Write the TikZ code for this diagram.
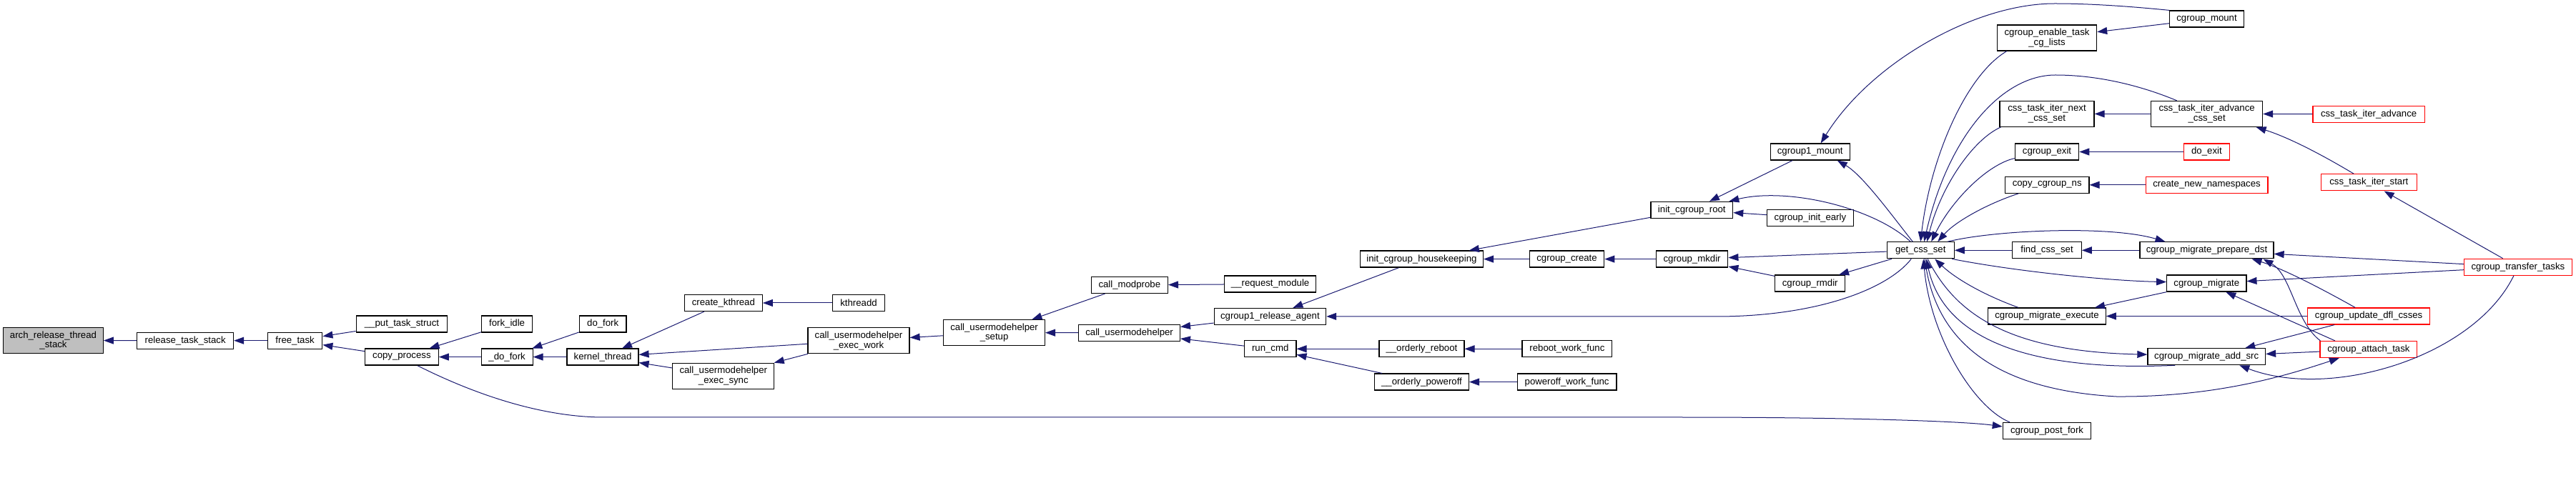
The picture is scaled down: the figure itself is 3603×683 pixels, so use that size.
\documentclass[tikz,border=0pt]{standalone}
\usepackage{fontspec}
\setmainfont{Liberation Sans}
\usepackage{tikz}
\usepackage{xcolor}
\usetikzlibrary{arrows.meta,calc}
\definecolor{edgeblue}{HTML}{191970}
\definecolor{rootgray}{HTML}{BFBFBF}
\definecolor{linkred}{HTML}{FF0000}
\tikzset{
  fn/.style={draw=black,fill=white,line width=0.6pt,
             inner xsep=2pt,inner ysep=1pt,minimum height=11.5pt,
             align=center,font=\fontsize{6.6pt}{6.9pt}\selectfont},
  twoline/.style={minimum height=18pt},
  rootfn/.style={fn,fill=rootgray},
  extfn/.style={fn,draw=linkred},
  call/.style={->,draw=edgeblue,line width=0.5pt}
}

\begin{document}
\begin{tikzpicture}[x=0.5pt,y=-0.5pt,>={Triangle[length=7pt,width=5pt]}]
  \useasboundingbox (0,0) rectangle (3603,683);

  % kernel side, left half
  \node[rootfn,twoline,minimum width=69.8pt] (arch) at (74.5,476.5) {arch\_release\_thread\\\_stack};
  \node[fn,minimum width=67.4pt] (rts) at (259.2,476.7) {release\_task\_stack};
  \node[fn,minimum width=38.2pt] (free) at (412.6,476.7) {free\_task};
  \node[fn,minimum width=63.8pt] (put) at (562,453.5) {\_\_put\_task\_struct};
  \node[fn,minimum width=51.4pt] (copy) at (561.9,499.6) {copy\_process};
  \node[fn,minimum width=35.6pt] (forkidle) at (709.1,453.5) {fork\_idle};
  \node[fn,minimum width=36pt] (ufork) at (709.1,499.6) {\_do\_fork};
  \node[fn,minimum width=32.8pt] (dofork) at (843.2,453.5) {do\_fork};
  \node[fn,minimum width=50pt] (kthread) at (843,499.6) {kernel\_thread};
  \node[fn,minimum width=54.4pt] (createk) at (1011.9,424) {create\_kthread};
  \node[fn,twoline,minimum width=71pt] (execsync) at (1011.8,526.3) {call\_usermodehelper\\\_exec\_sync};
  \node[fn,minimum width=36.3pt] (kthreadd) at (1201,424) {kthreadd};
  \node[fn,twoline,minimum width=71pt] (execwork) at (1201,476.7) {call\_usermodehelper\\\_exec\_work};
  \node[fn,twoline,minimum width=70.8pt] (setup) at (1390.6,465.6) {call\_usermodehelper\\\_setup};
  \node[fn,minimum width=53.6pt] (modprobe) at (1579.8,399) {call\_modprobe};
  \node[fn,minimum width=70.8pt] (cuh) at (1579.6,465.8) {call\_usermodehelper};
  \node[fn,minimum width=64.1pt] (reqmod) at (1776.6,397.5) {\_\_request\_module};
  \node[fn,minimum width=78.2pt] (release) at (1776.4,442.9) {cgroup1\_release\_agent};
  \node[fn,minimum width=36.2pt] (runcmd) at (1776.7,488.3) {run\_cmd};
  \node[fn,minimum width=86pt] (housekeep) at (1988.4,362.6) {init\_cgroup\_housekeeping};
  \node[fn,minimum width=59.5pt] (oreboot) at (1988.4,488.3) {\_\_orderly\_reboot};
  \node[fn,minimum width=65.9pt] (opoweroff) at (1988.5,534.6) {\_\_orderly\_poweroff};
  \node[fn,minimum width=52.2pt] (ccreate) at (2191.5,362.6) {cgroup\_create};
  \node[fn,minimum width=62.9pt] (rebootwf) at (2191.9,488.3) {reboot\_work\_func};
  \node[fn,minimum width=69.4pt] (poweroffwf) at (2191.6,534.6) {poweroff\_work\_func};
  \node[fn,minimum width=50.2pt] (mkdir) at (2366.6,362.6) {cgroup\_mkdir};
  \node[fn,minimum width=57.4pt] (root) at (2366.3,293.8) {init\_cgroup\_root};

  % cgroup core
  \node[fn,minimum width=55.4pt] (c1mount) at (2531.7,212.5) {cgroup1\_mount};
  \node[fn,minimum width=60.3pt] (initearly) at (2531.9,304.7) {cgroup\_init\_early};
  \node[fn,minimum width=49pt] (rmdir) at (2531.7,396.6) {cgroup\_rmdir};
  \node[fn,minimum width=47pt] (getcss) at (2686.2,350.3) {get\_css\_set};
  \node[fn,twoline,minimum width=69.6pt] (enable) at (2863,53) {cgroup\_enable\_task\\\_cg\_lists};
  \node[fn,twoline,minimum width=66pt] (nextcss) at (2863,159.4) {css\_task\_iter\_next\\\_css\_set};
  \node[fn,minimum width=44.7pt] (cexit) at (2863,212.5) {cgroup\_exit};
  \node[fn,minimum width=58.7pt] (copyns) at (2863.2,258.8) {copy\_cgroup\_ns};
  \node[fn,minimum width=48.2pt] (findcss) at (2863,350.3) {find\_css\_set};
  \node[fn,minimum width=82.2pt] (mexec) at (2863,442.5) {cgroup\_migrate\_execute};
  \node[fn,minimum width=61.7pt] (postfork) at (2863,603) {cgroup\_post\_fork};
  \node[fn,minimum width=51.9pt] (cmount) at (3086.5,26.5) {cgroup\_mount};
  \node[fn,twoline,minimum width=78pt] (advcss) at (3086.6,159.4) {css\_task\_iter\_advance\\\_css\_set};
  \node[extfn,minimum width=32.2pt] (doexit) at (3086.4,212.5) {do\_exit};
  \node[extfn,minimum width=85.4pt] (newns) at (3086.5,258.8) {create\_new\_namespaces};
  \node[fn,minimum width=93.5pt] (prepdst) at (3086.5,350.3) {cgroup\_migrate\_prepare\_dst};
  \node[fn,minimum width=55.6pt] (migrate) at (3086.3,396.6) {cgroup\_migrate};
  \node[fn,minimum width=82.3pt] (addsrc) at (3086.2,499.2) {cgroup\_migrate\_add\_src};
  \node[extfn,minimum width=78.1pt] (advance) at (3313.1,159.7) {css\_task\_iter\_advance};
  \node[extfn,minimum width=66.8pt] (iterstart) at (3313.3,255.4) {css\_task\_iter\_start};
  \node[extfn,minimum width=85.4pt] (updatedfl) at (3313.1,442.5) {cgroup\_update\_dfl\_csses};
  \node[extfn,minimum width=67.9pt] (attach) at (3312.9,489) {cgroup\_attach\_task};
  \node[extfn,minimum width=75.4pt] (transfer) at (3521.9,373.7) {cgroup\_transfer\_tasks};

  % left chain
  \draw[call] (rts) -- (arch);
  \draw[call] (free) -- (rts);
  \draw[call] (put) -- (free);
  \draw[call] (copy) -- (free);
  \draw[call] (forkidle) -- (copy);
  \draw[call] (ufork) -- (copy);
  \draw[call] (dofork) -- (ufork);
  \draw[call] (kthread) -- (ufork);
  \draw[call] (createk) -- (kthread);
  \draw[call] (execwork) -- (kthread);
  \draw[call] (execsync) -- (kthread);
  \draw[call] (kthreadd) -- (createk);
  \draw[call] (execwork) -- (execsync);
  \draw[call] (setup) -- (execwork);
  \draw[call] (modprobe) -- (setup);
  \draw[call] (cuh) -- (setup);
  \draw[call] (reqmod) -- (modprobe);
  \draw[call] (release) -- (cuh);
  \draw[call] (runcmd) -- (cuh);
  \draw[call] (oreboot) -- (runcmd);
  \draw[call] (opoweroff) -- (runcmd);
  \draw[call] (rebootwf) -- (oreboot);
  \draw[call] (poweroffwf) -- (opoweroff);
  \draw[call] (housekeep) -- (release);
  \draw[call] (ccreate) -- (housekeep);
  \draw[call] (root) -- (housekeep);
  \draw[call] (mkdir) -- (ccreate);
  \draw[call] (c1mount) -- (root);
  \draw[call] (initearly) -- (root);
  \draw[call] (rmdir) -- (mkdir);

  % long run under everything
  \draw[call] ($(copy.south)+(22,0)$) .. controls (680,560) and (770,584) .. (845,584)
    -- (2350,584) .. controls (2600,584) and (2750,590) .. ($(postfork.west)+(0,-6)$);

  % out of get_css_set, to the left
  \draw[call] (getcss) -- (mkdir);
  \draw[call] (getcss) -- (rmdir);
  \draw[call] ($(getcss.south)+(-13,0)$) .. controls (2640,405) and (2540,443) .. (2400,443) -- (release.east);
  \draw[call] ($(getcss.north)+(-14,0)$) .. controls (2620,290) and (2500,262) .. ($(root.north east)+(-6,0)$);
  \draw[call] ($(getcss.north)+(-11,0)$) .. controls (2645,300) and (2605,245) .. ($(c1mount.south)+(38,0)$);

  % top arc
  \draw[call] (cmount.north west) .. controls (2990,10) and (2930,5) .. (2874,5)
    .. controls (2760,5) and (2615,90) .. ($(c1mount.north)+(15,0)$);
  \draw[call] (cmount) -- (enable);

  % into get_css_set from above
  \draw[call] ($(enable.south west)+(14,0)$) .. controls (2750,105) and (2700,220) .. (getcss.north);
  \draw[call] ($(advcss.north)+(-42,0)$) .. controls (2990,118) and (2930,105) .. (2875,105)
    .. controls (2800,105) and (2725,190) .. ($(getcss.north)+(5,0)$);
  \draw[call] ($(nextcss.south west)+(2,0)$) .. controls (2760,195) and (2715,260) .. ($(getcss.north)+(9,0)$);
  \draw[call] ($(cexit.south west)+(0,-3)$) .. controls (2780,230) and (2730,280) .. ($(getcss.north)+(15,0)$);
  \draw[call] ($(copyns.south)+(-40,0)$) .. controls (2780,285) and (2735,310) .. ($(getcss.north)+(24,0)$);
  \draw[call] (advcss) -- (nextcss);
  \draw[call] (doexit) -- (cexit);
  \draw[call] (newns) -- (copyns);
  \draw[call] (advance) -- (advcss);
  \draw[call] ($(iterstart.north)+(-21,0)$) .. controls (3245,215) and (3200,192) .. ($(advcss.south)+(69,0)$);
  \draw[call] (transfer) -- (iterstart);

  % migration
  \draw[call] (findcss) -- (getcss);
  \draw[call] (prepdst) -- (findcss);
  \draw[call] ($(getcss.north)+(38,0)$) .. controls (2790,322) and (2950,315) .. ($(prepdst.north)+(-58,0)$);
  \draw[call] ($(getcss.south)+(44,0)$) .. controls (2820,380) and (2950,393) .. ($(migrate.west)+(0,-2)$);
  \draw[call] (migrate.south west) -- ($(mexec.north)+(67,0)$);
  \draw[call] (updatedfl) -- (mexec);
  \draw[call] ($(mexec.north)+(-40,0)$) .. controls (2775,413) and (2735,390) .. ($(getcss.south)+(20,0)$);
  \draw[call] ($(getcss.south)+(10,0)$) .. controls (2735,440) and (2810,492) .. ($(addsrc.west)+(0,-3)$);
  \draw[call] ($(addsrc.south)+(-44,0)$) .. controls (2850,520) and (2720,480) .. ($(getcss.south)+(8,0)$);
  \draw[call] ($(getcss.south)+(6,0)$) .. controls (2705,470) and (2780,545) .. (2960,555)
    .. controls (3100,556) and (3200,525) .. ($(attach.south)+(-41,0)$);
  \draw[call] ($(postfork.north)+(-52,0)$) .. controls (2760,570) and (2700,470) .. ($(getcss.south)+(4,0)$);

  % right edge callers
  \draw[call] (transfer) -- (prepdst);
  \draw[call] (transfer) -- (migrate);
  \draw[call] ($(transfer.south)+(-6,0)$) .. controls (3460,500) and (3260,560) .. ($(addsrc.south)+(46,0)$);
  \draw[call] ($(updatedfl.north)+(-19,0)$) .. controls (3240,400) and (3190,375) .. ($(prepdst.south)+(63,0)$);
  \draw[call] ($(attach.north west)+(1,0)$) .. controls (3210,450) and (3205,385) .. ($(prepdst.south)+(79,0)$);
  \draw[call] ($(attach.north)+(-47,0)$) -- ($(migrate.south)+(27,0)$);
  \draw[call] ($(updatedfl.south west)+(38,0)$) -- ($(addsrc.north)+(54,0)$);
  \draw[call] (attach) -- (addsrc);
\end{tikzpicture}
\end{document}
